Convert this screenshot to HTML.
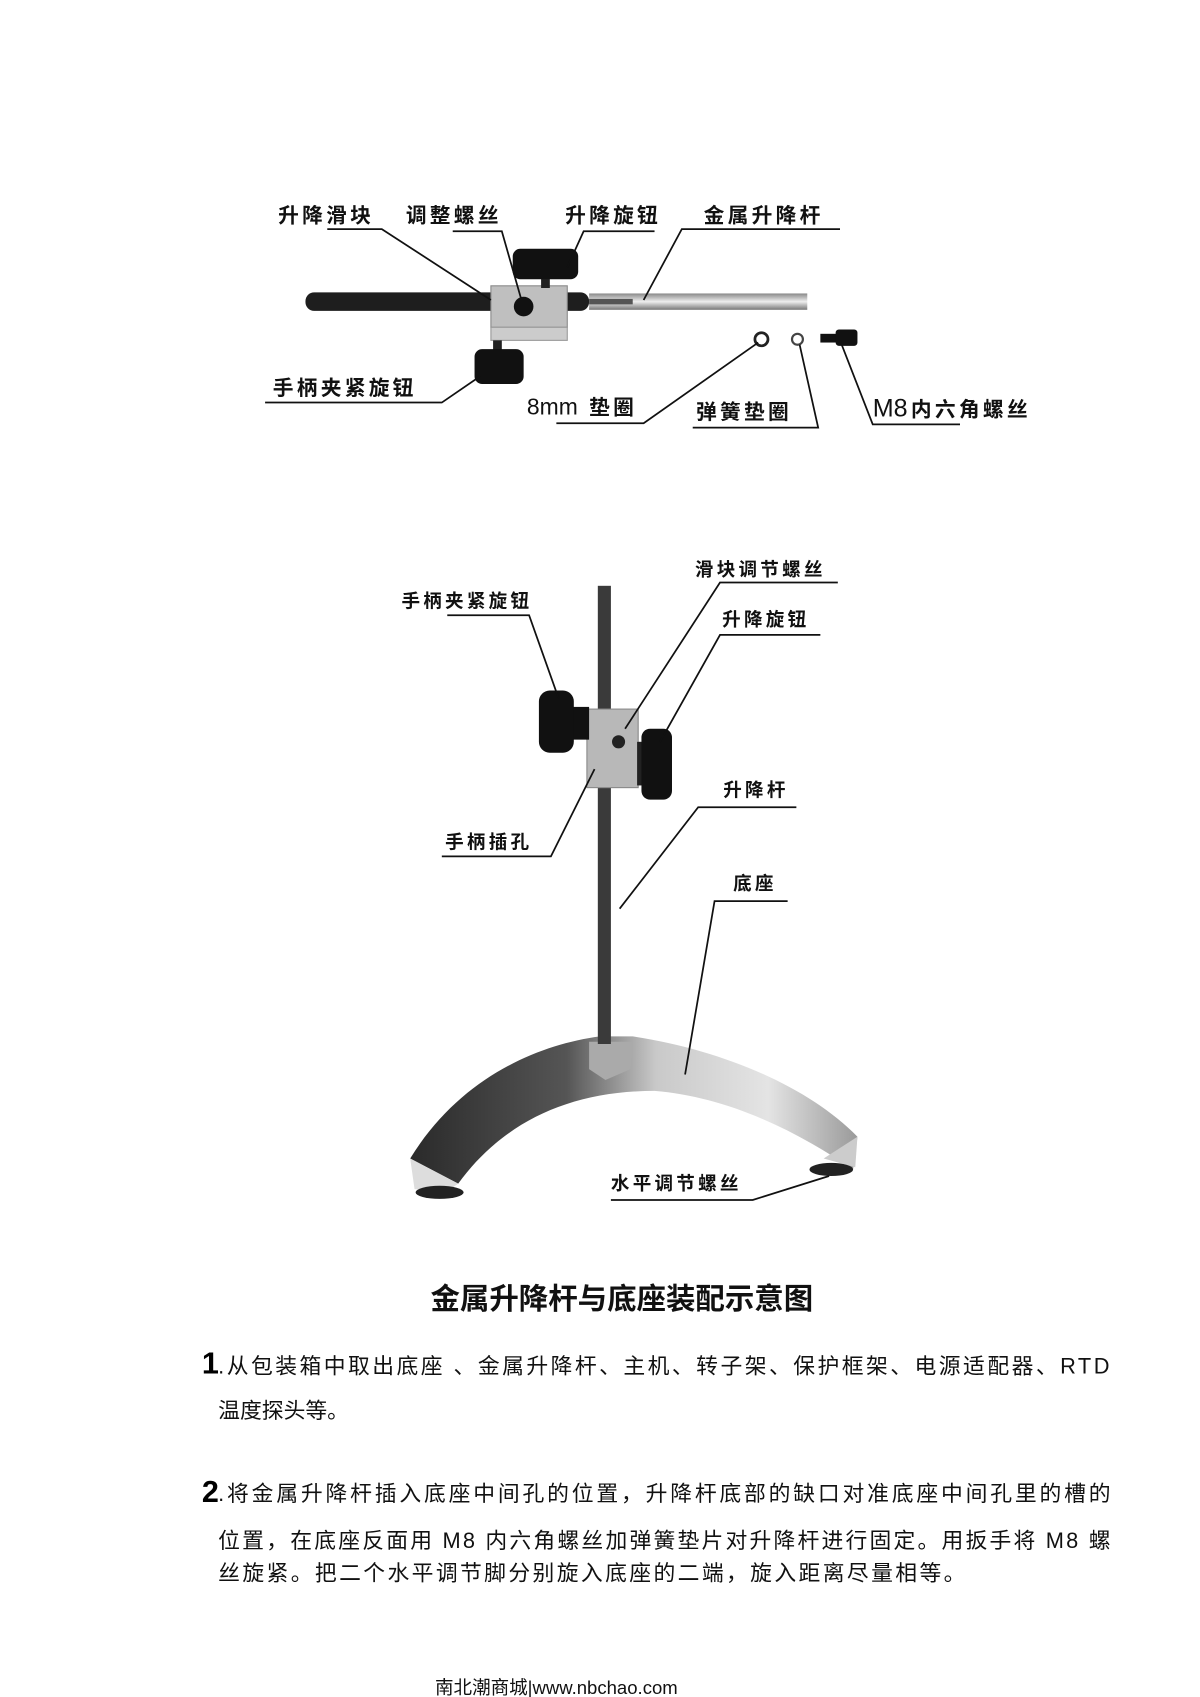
<!DOCTYPE html>
<html><head><meta charset="utf-8"><style>
html,body{margin:0;padding:0;background:#fff;}
svg{display:block}
.l{font-family:"Liberation Sans","Noto Sans CJK SC",sans-serif;font-size:19px;font-weight:bold;fill:#111;letter-spacing:3px}
.s{font-family:"Liberation Sans","Noto Sans CJK SC",sans-serif;font-size:17px;font-weight:bold;fill:#111;letter-spacing:3px}
.t{font-family:"Liberation Sans","Noto Sans CJK SC",sans-serif;font-size:20px;fill:#111}
line,polyline{stroke:#111;stroke-width:1.6;fill:none}
</style></head><body>
<svg width="1200" height="1697" viewBox="0 0 1100 1555.6" xmlns="http://www.w3.org/2000/svg">
<defs>
<linearGradient id="base" x1="0" y1="0" x2="1" y2="0">
<stop offset="0" stop-color="#2a2a2a"/><stop offset="0.35" stop-color="#555"/><stop offset="0.55" stop-color="#c9c9c9"/><stop offset="0.8" stop-color="#e4e4e4"/><stop offset="1" stop-color="#9a9a9a"/></linearGradient>
<linearGradient id="rod" x1="0" y1="0" x2="0" y2="1"><stop offset="0" stop-color="#888"/><stop offset="0.5" stop-color="#eee"/><stop offset="1" stop-color="#777"/></linearGradient>
</defs>
<!-- top diagram -->
<rect x="280" y="268" width="260" height="17" rx="8" fill="#1e1e1e"/>
<rect x="540" y="269" width="200" height="15" fill="url(#rod)"/>
<rect x="540" y="274" width="40" height="5" fill="#555"/>
<rect x="450" y="262" width="70" height="38" fill="#bfbfbf" stroke="#888"/>
<circle cx="480" cy="281" r="9" fill="#111"/>
<rect x="450" y="300" width="70" height="12" fill="#ccc" stroke="#999"/>
<rect x="496" y="248" width="8" height="16" fill="#222"/>
<rect x="470" y="228" width="60" height="28" rx="7" fill="#111"/>
<rect x="452" y="312" width="8" height="10" fill="#222"/>
<rect x="435" y="320" width="45" height="32" rx="7" fill="#111"/>
<circle cx="698" cy="311" r="6" fill="none" stroke="#222" stroke-width="2.5"/>
<circle cx="731" cy="311" r="5" fill="none" stroke="#444" stroke-width="2"/>
<rect x="752" y="306" width="16" height="8" fill="#111"/><rect x="766" y="302" width="20" height="15" rx="3" fill="#111"/>
<text class="l" x="255" y="204">升降滑块</text>
<text class="l" x="372" y="204">调整螺丝</text>
<text class="l" x="518" y="204">升降旋钮</text>
<text class="l" x="645" y="204">金属升降杆</text>
<polyline points="300,210 350,210 450,275"/>
<polyline points="415,212 460,212 478,275"/>
<polyline points="600,212 535,212 520,245"/>
<polyline points="770,210 625,210 590,275"/>
<text class="l" x="250" y="362">手柄夹紧旋钮</text>
<polyline points="243,369 405,369 440,345"/>
<text x="483" y="380" style="font-family:'Liberation Sans',sans-serif;font-size:21px;fill:#111">8mm</text><text class="l" x="540" y="380">垫圈</text>
<polyline points="510,388 590,388 695,314"/>
<text class="l" x="638" y="384">弹簧垫圈</text>
<polyline points="635,392 750,392 733,316"/>
<text x="800" y="382" style="font-family:'Liberation Sans',sans-serif;font-size:23px;fill:#111">M8</text><text class="l" x="835" y="382">内六角螺丝</text>
<polyline points="880,389 800,389 770,312"/>
<!-- stand -->
<path d="M376,1062 C420,990 490,958 550,950 L580,950 C660,962 740,995 786,1042 L782,1072 C720,1030 660,1005 600,1000 C520,1000 460,1030 420,1085 Z" fill="url(#base)"/>
<path d="M376,1062 L420,1085 L410,1092 L380,1090 Z" fill="#ddd"/>
<path d="M755,1062 L786,1042 L784,1070 Z" fill="#ccc"/>
<ellipse cx="403" cy="1093" rx="22" ry="6" fill="#222"/>
<ellipse cx="762" cy="1072" rx="20" ry="6" fill="#222"/>
<path d="M540,955 L580,955 L578,980 L555,990 L540,980 Z" fill="#aaa"/>
<rect x="548" y="537" width="12" height="420" fill="#3a3a3a"/>
<rect x="538" y="650" width="47" height="72" fill="#b8b8b8" stroke="#888"/>
<circle cx="567" cy="680" r="6" fill="#222"/>
<rect x="520" y="648" width="20" height="30" fill="#111"/>
<rect x="494" y="633" width="32" height="57" rx="10" fill="#111"/>
<rect x="584" y="680" width="10" height="40" fill="#222"/>
<rect x="588" y="668" width="28" height="65" rx="8" fill="#111"/>
<text class="s" x="637" y="528">滑块调节螺丝</text>
<polyline points="768,534 660,534 573,668"/>
<text class="s" x="368" y="557">手柄夹紧旋钮</text>
<polyline points="410,564 485,564 512,640"/>
<text class="s" x="662" y="574">升降旋钮</text>
<polyline points="752,582 660,582 605,680"/>
<text class="s" x="408" y="778">手柄插孔</text>
<polyline points="405,785 505,785 545,705"/>
<text class="s" x="663" y="730">升降杆</text>
<polyline points="730,740 640,740 568,833"/>
<text class="s" x="672" y="816">底座</text>
<polyline points="722,826 655,826 628,985"/>
<text class="s" x="560" y="1091">水平调节螺丝</text>
<polyline points="560,1100 690,1100 760,1078"/>
<!-- text -->
<text x="570" y="1200" text-anchor="middle" style="font-family:'Liberation Sans','Noto Sans CJK SC',sans-serif;font-size:27px;font-weight:bold;fill:#111">金属升降杆与底座装配示意图</text>
<text x="185" y="1259" style="font-family:'Liberation Sans',sans-serif;font-size:28px;font-weight:bold">1</text>
<text class="t" x="200" y="1259" textLength="817">.从包装箱中取出底座 、金属升降杆、主机、转子架、保护框架、电源适配器、RTD</text>
<text class="t" x="200" y="1300">温度探头等。</text>
<text x="185" y="1377" style="font-family:'Liberation Sans',sans-serif;font-size:28px;font-weight:bold">2</text>
<text class="t" x="200" y="1376" textLength="818">.将金属升降杆插入底座中间孔的位置，升降杆底部的缺口对准底座中间孔里的槽的</text>
<text class="t" x="200" y="1419" textLength="818">位置，在底座反面用 M8 内六角螺丝加弹簧垫片对升降杆进行固定。用扳手将 M8 螺</text>
<text class="t" x="200" y="1449" textLength="685">丝旋紧。把二个水平调节脚分别旋入底座的二端，旋入距离尽量相等。</text>
<text x="510" y="1553" text-anchor="middle" style="font-family:'Liberation Sans','Noto Sans CJK SC',sans-serif;font-size:17px;fill:#111">南北潮商城|www.nbchao.com</text>
</svg>
</body></html>
